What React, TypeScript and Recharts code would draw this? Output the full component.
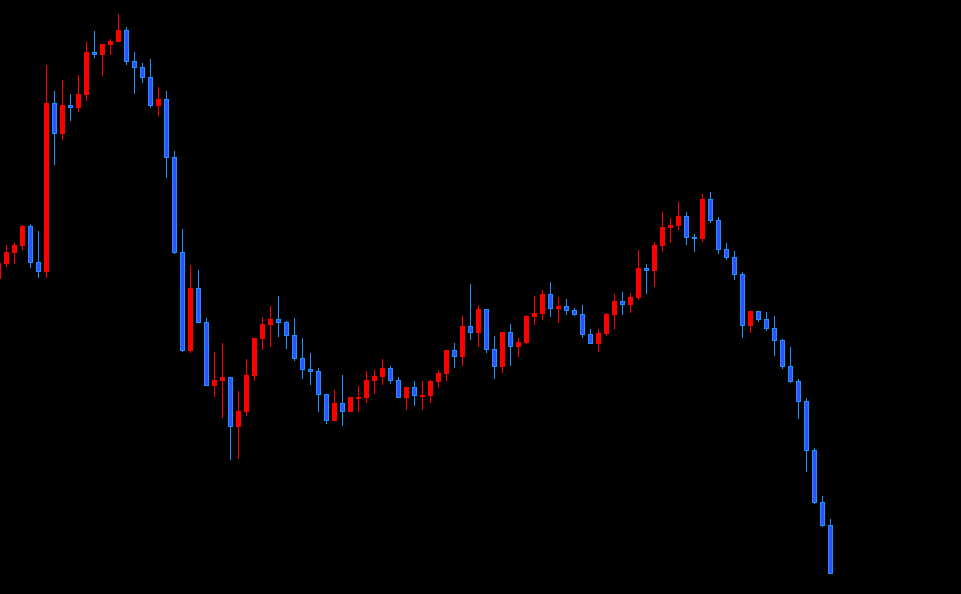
import { ComposedChart, Bar, XAxis, YAxis } from 'recharts';

// price units, one entry per candle, oldest first
const opens = [
  321,
  336, 347, 354, 374, 338, 328, 497, 466, 495, 492,
  505, 548, 545, 555, 558, 570, 539, 533, 523, 494,
  501, 443, 348, 249, 312, 278, 214, 219, 223, 173,
  188, 224, 261, 275, 281, 278, 265, 242, 231, 229,
  206, 179, 197, 188, 202, 202, 219, 223, 232, 220,
  202, 213, 204, 204, 218, 226, 250, 243, 274, 267,
  291, 251, 233, 268, 253, 257, 283, 286, 306, 291,
  294, 290, 286, 266, 256, 266, 285, 299, 295, 302,
  332, 329, 354, 372, 374, 384, 363, 361, 401, 380,
  351, 343, 326, 274, 289, 281, 272, 260, 234, 219,
  199, 150, 98, 75,
];

const highs = [
  339,
  355, 357, 375, 376, 369, 535, 509, 520, 506, 525,
  558, 569, 556, 561, 586, 573, 548, 537, 541, 513,
  509, 449, 371, 335, 330, 282, 248, 257, 223, 209,
  241, 262, 283, 294, 304, 279, 282, 262, 247, 232,
  206, 210, 225, 203, 214, 229, 230, 241, 234, 223,
  213, 219, 219, 220, 230, 250, 257, 284, 316, 295,
  291, 264, 268, 276, 262, 285, 304, 310, 318, 303,
  301, 292, 295, 271, 271, 287, 306, 308, 307, 350,
  336, 358, 388, 382, 398, 388, 366, 406, 408, 383,
  357, 349, 328, 289, 289, 288, 284, 261, 253, 221,
  202, 152, 104, 81,
];

const lows = [
  320,
  333, 336, 350, 332, 322, 322, 435, 460, 479, 488,
  499, 542, 524, 545, 558, 535, 506, 517, 492, 484,
  422, 346, 248, 247, 277, 214, 203, 182, 140, 141,
  184, 219, 250, 253, 263, 251, 239, 221, 215, 188,
  176, 179, 174, 188, 188, 197, 206, 215, 216, 202,
  190, 194, 190, 197, 212, 219, 232, 234, 260, 253,
  247, 221, 227, 234, 243, 256, 275, 280, 283, 277,
  285, 284, 262, 256, 248, 264, 271, 285, 287, 300,
  306, 313, 348, 357, 370, 355, 348, 358, 377, 346,
  340, 320, 262, 267, 278, 269, 244, 231, 217, 181,
  128, 96, 73, 26,
];

const closes = [
  337,
  348, 355, 374, 337, 328, 497, 466, 495, 492, 506,
  548, 545, 556, 559, 570, 538, 532, 522, 494, 501,
  442, 347, 249, 312, 277, 214, 220, 223, 173, 189,
  225, 262, 276, 281, 277, 264, 241, 230, 228, 205,
  179, 197, 188, 203, 203, 220, 224, 232, 219, 202,
  213, 204, 205, 219, 227, 250, 243, 274, 267, 291,
  250, 233, 268, 253, 258, 284, 287, 306, 291, 294,
  289, 285, 265, 256, 267, 286, 299, 295, 303, 332,
  329, 355, 373, 375, 384, 362, 361, 401, 379, 350,
  342, 325, 274, 289, 280, 271, 259, 233, 218, 198,
  149, 97, 74, 26,
];

const data = opens.map((open, i) => ({
  idx: i,
  open,
  high: highs[i],
  low: lows[i],
  close: closes[i],
}));

const UP = '#ff0000';
const DOWN_EDGE = '#1e90ff';
const DOWN_FILL = '#3052ff';

function Candle(props: any) {
  const { x, y, width, height, payload } = props;
  if (!payload || x == null || y == null) return null;
  const { open, close, high, low } = payload;
  const cx = Math.floor(x + width / 2) + 0.5;
  const yTop = Math.min(y, y + height);
  const span = high - low;
  const ratio = span > 0 ? Math.abs(height) / span : 0;
  const yOf = (v: number) => yTop + (high - v) * ratio;
  const up = close >= open;
  const bTop = Math.round(yOf(Math.max(open, close)));
  let bBot = Math.round(yOf(Math.min(open, close)));
  if (bBot - bTop < 2) bBot = bTop + 2;
  const color = up ? UP : DOWN_EDGE;
  return (
    <g>
      <line x1={cx} x2={cx} y1={yOf(high)} y2={yOf(low)} stroke={color} strokeWidth={1} />
      {up ? (
        <rect x={cx - 2.5} y={bTop} width={5} height={bBot - bTop} fill={UP} />
      ) : (
        <rect
          x={cx - 2} y={bTop + 0.5} width={4} height={bBot - bTop - 1}
          fill={DOWN_FILL} stroke={DOWN_EDGE} strokeWidth={1}
        />
      )}
    </g>
  );
}

export default function App() {
  return (
    <div style={{ position: 'fixed', left: 0, top: 0, width: 961, height: 594, background: '#000' }}>
      <ComposedChart width={961} height={594} data={data} margin={{ top: 0, right: 0, bottom: 0, left: 0 }}>
        <XAxis dataKey="idx" type="number" domain={[0.1875, 120.3125]} allowDataOverflow hide />
        <YAxis type="number" domain={[6, 600]} allowDataOverflow hide />
        <Bar
          dataKey={(d: any) => [d.low, d.high]}
          barSize={5}
          shape={(p: any) => <Candle {...p} />}
          isAnimationActive={false}
        />
      </ComposedChart>
    </div>
  );
}
